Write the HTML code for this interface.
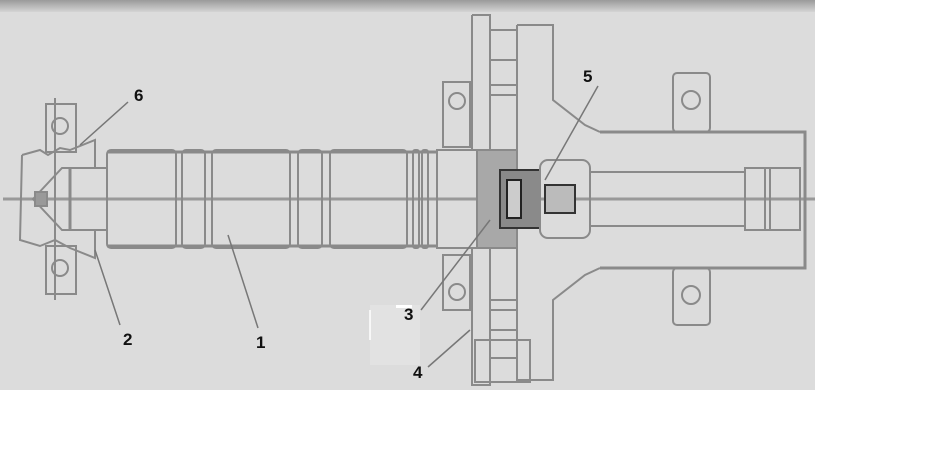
<!DOCTYPE html>
<html><head><meta charset="utf-8"><style>
html,body{margin:0;padding:0;background:#fff;width:945px;height:460px;overflow:hidden}
svg{display:block}
text{font-family:"Liberation Sans",sans-serif;font-weight:bold;font-size:17px;fill:#111}
</style></head><body>
<svg width="945" height="460">
<defs><linearGradient id="tg" x1="0" y1="0" x2="0" y2="1"><stop offset="0" stop-color="#9a9a9a"/><stop offset="1" stop-color="#d4d4d4"/></linearGradient></defs>
<rect x="0" y="0" width="815" height="390" fill="#dcdcdc"/>
<rect x="0" y="0" width="815" height="12" fill="url(#tg)"/>
<rect x="370" y="305" width="50" height="60" fill="#e2e2e2"/>
<line x1="370" y1="310" x2="370" y2="340" stroke="#fff" stroke-width="1.5"/>
<rect x="396" y="305" width="16" height="3" fill="#fff"/>
<g fill="none" stroke="#8a8a8a" stroke-width="2">
<line x1="3" y1="199" x2="815" y2="199" stroke="#999" stroke-width="3"/>
<!-- left housing -->
<path d="M22 155 L40 150 L48 155 L60 148 L70 150 L95 140 L95 168 M22 155 L20 240 L40 246 L55 240 L70 248 L95 258 L95 230" />
<rect x="46" y="104" width="30" height="48"/><circle cx="60" cy="126" r="8"/>
<rect x="46" y="246" width="30" height="48"/><circle cx="60" cy="268" r="8"/>
<line x1="55" y1="98" x2="55" y2="300"/>
<path d="M33 199 L62 168 L107 168 L107 230 L62 230 Z"/>
<rect x="35" y="192" width="12" height="14" fill="#999"/>
<line x1="70" y1="168" x2="70" y2="230" stroke-width="3"/>
<!-- shaft segments -->
<rect x="107" y="150" width="69" height="98" rx="4"/>
<rect x="182" y="150" width="23" height="98" rx="4"/>
<rect x="212" y="150" width="78" height="98" rx="4"/>
<rect x="298" y="150" width="24" height="98" rx="4"/>
<rect x="330" y="150" width="77" height="98" rx="4"/>
<rect x="413" y="150" width="6" height="98" rx="2"/>
<rect x="422" y="150" width="6" height="98" rx="2"/>
<line x1="107" y1="152" x2="437" y2="152" stroke-width="3"/>
<line x1="107" y1="246" x2="437" y2="246" stroke-width="3"/>
<!-- hub -->
<rect x="437" y="150" width="40" height="98"/>
<rect x="477" y="150" width="40" height="98" fill="#a8a8a8"/>
<rect x="500" y="170" width="40" height="58" fill="#8a8a8a" stroke="#333"/>
<rect x="507" y="180" width="14" height="38" fill="#ccc" stroke="#222"/>
<rect x="540" y="160" width="50" height="78" rx="8"/>
<rect x="545" y="185" width="30" height="28" fill="#bbb" stroke="#333"/>
<!-- flanges -->
<path d="M472 15 L490 15 L490 150 M472 15 L472 150 M472 248 L472 385 L490 385 L490 248"/>
<path d="M517 25 L553 25 L553 100 L585 125 L600 132 M517 25 L517 150 M517 248 L517 380 L553 380 L553 300 L585 275 L600 268"/>
<rect x="490" y="30" width="27" height="30"/><rect x="490" y="85" width="27" height="10"/>
<rect x="490" y="300" width="27" height="10"/><rect x="490" y="330" width="27" height="28"/>
<rect x="475" y="340" width="55" height="42"/>
<rect x="443" y="82" width="27" height="65"/><circle cx="457" cy="101" r="8"/>
<rect x="443" y="255" width="27" height="55"/><circle cx="457" cy="292" r="8"/>
<!-- tube -->
<path d="M600 132 L805 132 L805 268 L600 268" stroke-width="3"/>
<line x1="590" y1="172" x2="745" y2="172"/><line x1="590" y1="226" x2="745" y2="226"/>
<rect x="745" y="168" width="55" height="62"/>
<line x1="770" y1="168" x2="770" y2="230"/><line x1="765" y1="168" x2="765" y2="230"/>
<rect x="673" y="73" width="37" height="59" rx="4"/><circle cx="691" cy="100" r="9"/>
<rect x="673" y="268" width="37" height="57" rx="4"/><circle cx="691" cy="295" r="9"/>
</g>
<g stroke="#777" stroke-width="1.5" fill="none">
<line x1="128" y1="102" x2="80" y2="145"/>
<line x1="120" y1="325" x2="95" y2="250"/>
<line x1="258" y1="328" x2="228" y2="235"/>
<line x1="421" y1="310" x2="490" y2="220"/>
<line x1="428" y1="367" x2="470" y2="330"/>
<line x1="598" y1="86" x2="545" y2="180"/>
</g>
<text x="134" y="101">6</text>
<text x="123" y="345">2</text>
<text x="256" y="348">1</text>
<text x="404" y="320">3</text>
<text x="413" y="378">4</text>
<text x="583" y="82">5</text>
</svg>
</body></html>
